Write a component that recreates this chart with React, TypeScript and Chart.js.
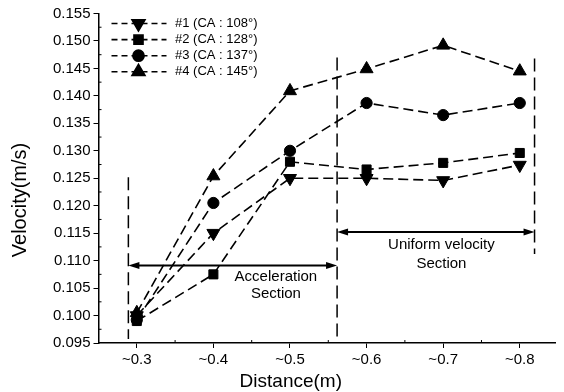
import React, { useEffect, useRef } from 'react';
import { Chart, registerables } from 'chart.js';
import { drawPoint } from 'chart.js/helpers';

Chart.register(...registerables);

// ---- data ----
const distances = [0.3, 0.4, 0.5, 0.6, 0.7, 0.8];
const seriesLabels = ['#1 (CA : 108°)', '#2 (CA : 128°)', '#3 (CA : 137°)', '#4 (CA : 145°)'];
const velocity1 = [0.1, 0.115, 0.125, 0.125, 0.1246, 0.1274];
const velocity2 = [0.099, 0.1075, 0.128, 0.1266, 0.1278, 0.1296];
const velocity3 = [0.0992, 0.1205, 0.13, 0.1387, 0.1365, 0.1387];
const velocity4 = [0.1005, 0.1254, 0.1409, 0.1449, 0.1492, 0.1445];

const xTickValues = [0.3, 0.4, 0.5, 0.6, 0.7, 0.8];
const xTickLabels = ['~0.3', '~0.4', '~0.5', '~0.6', '~0.7', '~0.8'];
const yTickValues = [0.095, 0.1, 0.105, 0.11, 0.115, 0.12, 0.125, 0.13, 0.135, 0.14, 0.145, 0.15, 0.155];

const xTitle = 'Distance(m)';
const yTitle = 'Velocity(m/s)';

// section annotations (data units)
const boundaryX = [0.289, 0.5615, 0.8193];
const boundaryTop = [0.1252, 0.147, 0.1468];
const boundaryBottom = [0.095, 0.095, 0.1105];
const arrowFromX = [0.289, 0.5615];
const arrowToX = [0.5615, 0.8193];
const arrowY = [0.1091, 0.1152];
const sectionLines = [
  ['Acceleration', 'Section'],
  ['Uniform velocity', 'Section'],
];
const sectionTextX = [0.4816, 0.6977];
const sectionTextY = [
  [0.107, 0.1039],
  [0.1128, 0.1095],
];

const FONT = "'Liberation Sans', Arial, Helvetica, sans-serif";

const pointStyles = ['triangle', 'rect', 'circle', 'triangle'];
const pointRotations = [180, 0, 0, 0];
const pointRadii = [7.5, 6.4, 5.6, 7.5];
const seriesValues = [velocity1, velocity2, velocity3, velocity4];

const decorPlugin = {
  id: 'decor',
  afterDatasetsDraw(chart: any) {
    const { ctx, chartArea, scales } = chart;
    const xs = scales.x;
    const ys = scales.y;
    ctx.save();
    ctx.strokeStyle = '#000';
    ctx.fillStyle = '#000';

    // minor ticks (inward)
    ctx.lineWidth = 1;
    ctx.setLineDash([]);
    for (let i = 0; i < yTickValues.length - 1; i++) {
      const v = (yTickValues[i] + yTickValues[i + 1]) / 2;
      const py = ys.getPixelForValue(v);
      ctx.beginPath();
      ctx.moveTo(chartArea.left, py);
      ctx.lineTo(chartArea.left + 3, py);
      ctx.stroke();
    }
    for (let i = 0; i < xTickValues.length - 1; i++) {
      const v = (xTickValues[i] + xTickValues[i + 1]) / 2;
      const px = xs.getPixelForValue(v);
      ctx.beginPath();
      ctx.moveTo(px, chartArea.bottom);
      ctx.lineTo(px, chartArea.bottom - 3);
      ctx.stroke();
    }

    // boundary dashed verticals
    ctx.lineWidth = 1.5;
    ctx.setLineDash([13, 6]);
    boundaryX.forEach((bx, i) => {
      const px = xs.getPixelForValue(bx);
      ctx.beginPath();
      ctx.moveTo(px, ys.getPixelForValue(boundaryTop[i]));
      ctx.lineTo(px, ys.getPixelForValue(boundaryBottom[i]) - 4);
      ctx.stroke();
    });

    // double arrows
    ctx.setLineDash([]);
    ctx.lineWidth = 2;
    arrowY.forEach((ay, i) => {
      const py = ys.getPixelForValue(ay);
      const x0 = xs.getPixelForValue(arrowFromX[i]);
      const x1 = xs.getPixelForValue(arrowToX[i]);
      ctx.beginPath();
      ctx.moveTo(x0 + 6, py);
      ctx.lineTo(x1 - 6, py);
      ctx.stroke();
      ctx.beginPath();
      ctx.moveTo(x0, py);
      ctx.lineTo(x0 + 11, py - 3.5);
      ctx.lineTo(x0 + 11, py + 3.5);
      ctx.closePath();
      ctx.fill();
      ctx.beginPath();
      ctx.moveTo(x1, py);
      ctx.lineTo(x1 - 11, py - 3.5);
      ctx.lineTo(x1 - 11, py + 3.5);
      ctx.closePath();
      ctx.fill();
    });

    // section text
    ctx.font = `15px ${FONT}`;
    ctx.textAlign = 'center';
    ctx.textBaseline = 'middle';
    sectionLines.forEach((lines, i) => {
      lines.forEach((t, j) => {
        ctx.fillText(t, xs.getPixelForValue(sectionTextX[i]), ys.getPixelForValue(sectionTextY[i][j]));
      });
    });

    // legend inside the plot
    chart.data.datasets.forEach((ds: any, i: number) => {
      const y = chartArea.top + 10 + i * 16.1;
      const l = chartArea.left;
      ctx.strokeStyle = ds.borderColor;
      ctx.lineWidth = 1.6;
      ctx.setLineDash([6, 4]);
      ctx.beginPath();
      ctx.moveTo(l + 13, y);
      ctx.lineTo(l + 68, y);
      ctx.stroke();
      ctx.setLineDash([]);
      ctx.fillStyle = ds.pointBackgroundColor;
      ctx.strokeStyle = ds.pointBorderColor;
      drawPoint(ctx, { pointStyle: ds.pointStyle, rotation: ds.pointRotation, radius: ds.pointRadius, borderWidth: 1 }, l + 40, y);
      ctx.fillStyle = '#000';
      ctx.font = `13px ${FONT}`;
      ctx.textAlign = 'left';
      ctx.textBaseline = 'middle';
      ctx.fillText(ds.label, l + 76.5, y);
    });

    // axis titles
    ctx.fillStyle = '#000';
    ctx.textAlign = 'center';
    ctx.textBaseline = 'middle';
    ctx.font = `19px ${FONT}`;
    ctx.fillText(xTitle, 290.8, 381.5);
    ctx.save();
    ctx.translate(20.7, 200);
    ctx.rotate(-Math.PI / 2);
    ctx.font = `20px ${FONT}`;
    ctx.fillText(yTitle, 0, 0);
    ctx.restore();

    ctx.restore();
  },
};

export default function App() {
  const canvasRef = useRef<HTMLCanvasElement | null>(null);

  useEffect(() => {
    const canvas = canvasRef.current;
    if (!canvas) return;
    const datasets = seriesLabels.map((label, i) => ({
      label,
      data: distances.map((d, k) => ({ x: d, y: seriesValues[i][k] })),
      borderColor: '#000',
      backgroundColor: '#000',
      borderWidth: 1.6,
      borderDash: [10, 5],
      pointStyle: pointStyles[i],
      pointRotation: pointRotations[i],
      pointRadius: pointRadii[i],
      pointBackgroundColor: '#000',
      pointBorderColor: '#000',
      pointBorderWidth: 1,
      tension: 0,
      fill: false,
    }));

    const chart = new Chart(canvas, {
      type: 'line',
      data: { datasets },
      options: {
        animation: false,
        responsive: false,
        devicePixelRatio: 1,
        layout: { padding: { top: 13.5, right: 9, left: 0, bottom: 0 } },
        plugins: { legend: { display: false }, tooltip: { enabled: false } },
        scales: {
          x: {
            type: 'linear',
            min: 0.25,
            max: 0.846,
            afterBuildTicks: (s: any) => {
              s.ticks = xTickValues.map((v) => ({ value: v }));
            },
            afterFit: (s: any) => {
              s.height = 49;
            },
            ticks: {
              color: '#000',
              font: { family: FONT, size: 15 },
              padding: 3,
              maxRotation: 0,
              autoSkip: false,
              callback: (_v: any, idx: number) => xTickLabels[idx],
            },
            grid: { display: true, drawOnChartArea: false, drawTicks: true, tickLength: 5, color: '#000', lineWidth: 1 },
            border: { display: true, color: '#000', width: 1.5 },
          },
          y: {
            type: 'linear',
            min: 0.095,
            max: 0.155,
            afterBuildTicks: (s: any) => {
              s.ticks = yTickValues.map((v) => ({ value: v }));
            },
            afterFit: (s: any) => {
              s.width = 98.5;
            },
            ticks: {
              color: '#000',
              font: { family: FONT, size: 15 },
              padding: 3,
              autoSkip: false,
              callback: (v: any) => Number(v).toFixed(3),
            },
            grid: { display: true, drawOnChartArea: false, drawTicks: true, tickLength: 5, color: '#000', lineWidth: 1 },
            border: { display: true, color: '#000', width: 1.5 },
          },
        },
      },
      plugins: [decorPlugin],
    });
    return () => chart.destroy();
  }, []);

  return (
    <div style={{ position: 'absolute', left: 0, top: 0, width: 564, height: 392, background: '#fff' }}>
      <canvas ref={canvasRef} width={564} height={392} style={{ display: 'block' }} />
    </div>
  );
}
